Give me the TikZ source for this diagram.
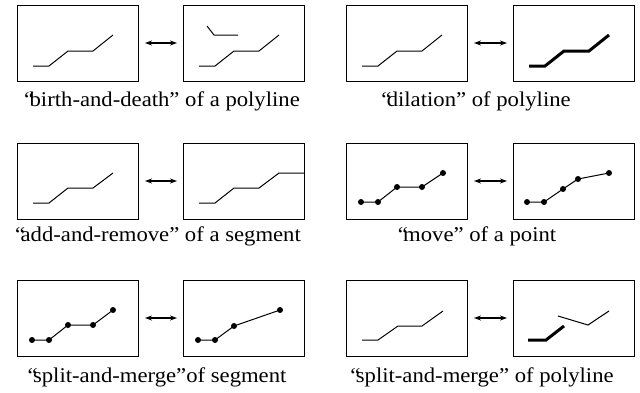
\documentclass[tikz,border=0pt]{standalone}
\usepackage{fontspec}
\setmainfont{Liberation Serif}
\newfontfamily\capfont[FakeStretch=1.08]{Liberation Serif}
\usetikzlibrary{arrows.meta}
\newcommand{\openq}{“\kern-0.22em}
\begin{document}
\begin{tikzpicture}[x=1pt,y=-1pt,
  panel/.style={draw, line width=0.9pt, minimum width=121pt, minimum height=76pt, inner sep=0pt, outer sep=0pt, anchor=north west},
  pline/.style={line width=1pt},
  thickline/.style={line width=3pt},
  swap/.style={{Stealth[length=7pt,width=5pt]}-{Stealth[length=7pt,width=5pt]}, line width=1.4pt, shorten >=6pt, shorten <=7pt},
  caption/.style={font=\capfont\fontsize{21}{24}\selectfont, anchor=base, inner sep=0pt}]
\useasboundingbox (0,0) rectangle (640,392);

% ---------- row 1 ----------
\node[panel] (a1) at (17,5) {};
\node[panel] (a2) at (183,5) {};
\node[panel] (b1) at (346,5) {};
\node[panel] (b2) at (513,5) {};
\draw[swap] (a1.east) -- (a2.west);
\draw[swap] (b1.east) -- (b2.west);
\begin{scope}[shift={(a1.north west)}]
  \draw[pline] (16,61) -- (32,61) -- (51,46) -- (76,46) -- (96,30);
\end{scope}
\begin{scope}[shift={(a2.north west)}]
  \draw[pline] (16,61) -- (32,61) -- (51,46) -- (76,46) -- (96,30);
  \draw[pline] (24,21) -- (31,30) -- (55,30);
\end{scope}
\begin{scope}[shift={(b1.north west)}]
  \draw[pline] (16,61) -- (32,61) -- (51,46) -- (76,46) -- (96,30);
\end{scope}
\begin{scope}[shift={(b2.north west)}]
  \draw[thickline] (16,61) -- (32,61) -- (51,46) -- (76,46) -- (96,30);
\end{scope}
\node[caption] (ca) at (162,106) {\openq birth-and-death” of a polyline};
\node[caption] (cb) at (476,106) {\openq dilation” of polyline};

% ---------- row 2 ----------
\node[panel] (c1) at (17,143) {};
\node[panel] (c2) at (183,143) {};
\node[panel] (d1) at (346,143) {};
\node[panel] (d2) at (513,143) {};
\draw[swap] (c1.east) -- (c2.west);
\draw[swap] (d1.east) -- (d2.west);
\begin{scope}[shift={(c1.north west)}]
  \draw[pline] (16,60) -- (32,60) -- (51,45) -- (76,45) -- (96,30);
\end{scope}
\begin{scope}[shift={(c2.north west)}]
  \draw[pline] (16,60) -- (32,60) -- (51,45) -- (76,45) -- (96,30) -- (121,30);
\end{scope}
\begin{scope}[shift={(d1.north west)}]
  \draw[pline] (15,59) -- (32,59) -- (51,44) -- (76,44) -- (97,30);
  \foreach \p in {(15,59),(32,59),(51,44),(76,44),(97,30)} \fill \p circle (3pt);
\end{scope}
\begin{scope}[shift={(d2.north west)}]
  \draw[pline] (14,59) -- (31,59) -- (50,46) -- (65,36) -- (96,30);
  \foreach \p in {(14,59),(31,59),(50,46),(65,36),(96,30)} \fill \p circle (3pt);
\end{scope}
\node[caption] (cc) at (158,241) {\openq add-and-remove” of a segment};
\node[caption] (cd) at (477,241) {\openq move” of a point};

% ---------- row 3 ----------
\node[panel] (e1) at (17,280) {};
\node[panel] (e2) at (183,280) {};
\node[panel] (f1) at (346,280) {};
\node[panel] (f2) at (513,280) {};
\draw[swap] (e1.east) -- (e2.west);
\draw[swap] (f1.east) -- (f2.west);
\begin{scope}[shift={(e1.north west)}]
  \draw[pline] (15,60) -- (32,60) -- (51,45) -- (76,45) -- (96,30);
  \foreach \p in {(15,60),(32,60),(51,45),(76,45),(96,30)} \fill \p circle (3pt);
\end{scope}
\begin{scope}[shift={(e2.north west)}]
  \draw[pline] (15,60) -- (32,60) -- (51,46) -- (97,30);
  \foreach \p in {(15,60),(32,60),(51,46),(97,30)} \fill \p circle (3pt);
\end{scope}
\begin{scope}[shift={(f1.north west)}]
  \draw[pline] (16,60) -- (32,60) -- (52,46) -- (76,46) -- (97,31);
\end{scope}
\begin{scope}[shift={(f2.north west)}]
  \draw[thickline] (15,60) -- (33,60) -- (51,46);
  \draw[pline] (45,36) -- (75,45) -- (96,31);
\end{scope}
\node[caption] (ce) at (157,382) {\openq split-and-merge”of segment};
\node[caption] (cf) at (482,382) {\openq split-and-merge” of polyline};
\end{tikzpicture}
\end{document}
